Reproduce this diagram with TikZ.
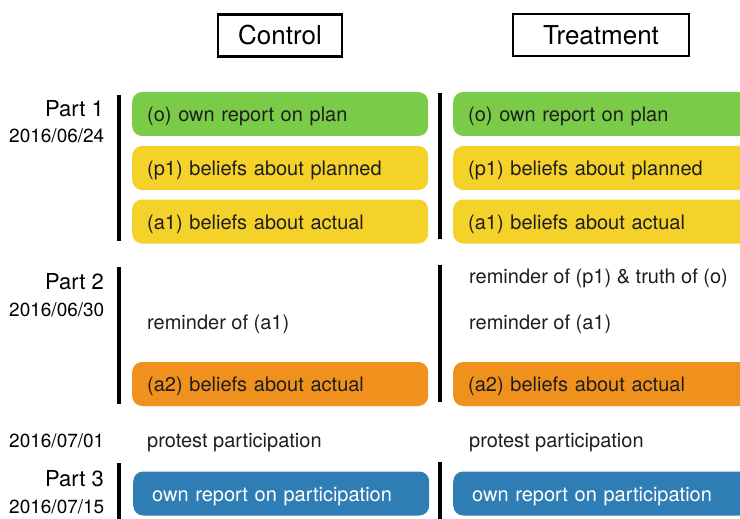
\documentclass[tikz,border=0pt]{standalone}
\usepackage{fontspec}
\setmainfont{TeX Gyre Heros}
\usepackage{tikz}
\usetikzlibrary{positioning}

\definecolor{planGreen}{RGB}{122,204,72}
\definecolor{beliefYellow}{RGB}{245,210,42}
\definecolor{actualOrange}{RGB}{240,145,30}
\definecolor{partBlue}{RGB}{46,126,181}
\definecolor{inkGray}{RGB}{30,30,30}

\begin{document}
\begin{tikzpicture}[
    x=1pt, y=-1pt,              % pixel-like coordinates, top-down
    font=\fontsize{20}{24}\selectfont,
    text=inkGray,
    ]
% -------------------------------------------------
\tikzset{
  base/.style={rounded corners=10pt, anchor=west, align=left, minimum height=44pt,
               inner xsep=15pt, text width=266pt, text height=17pt, text depth=2pt},
  plan/.style={base, fill=planGreen},
  belief/.style={base, fill=beliefYellow},
  actual/.style={base, fill=actualOrange},
  report/.style={base, fill=partBlue, text=white, inner xsep=19pt, text width=258pt},
  plain/.style={anchor=west, inner sep=0pt, yshift=-1.5pt},
  group/.style={draw=black, line width=2.5pt, inner sep=0pt, minimum height=42pt,
                font=\fontsize{26}{30}\selectfont, text=black},
  part/.style={anchor=east, inner sep=0pt, font=\fontsize{22}{26}\selectfont, text=black},
  date/.style={anchor=east, inner sep=0pt, font=\fontsize{19}{22}\selectfont, text=black},
  bar/.style={line width=4pt, black}
}
\useasboundingbox (0,0) rectangle (740,519);
% -------------------------------------------------
% Headers
\node [group, minimum width=124pt] (ctl) at (280,35.5) {Control};
\node [group, minimum width=176pt] (trt) at (601,35) {Treatment};

% Parts and dates
\node [part] (p1lab) at (104,108.5) {Part 1};
\node [date] (d1) at (104.5,136) {2016/06/24};
\node [part] (p2lab) at (104,281.5) {Part 2};
\node [date] (d2) at (104.5,309.5) {2016/06/30};
\node [date] (d3) at (104.5,441) {2016/07/01};
\node [part] (p3lab) at (104,478.5) {Part 3};
\node [date] (d4) at (104.5,506.5) {2016/07/15};

% Vertical bars
\draw [bar] (119,95) -- (119,241);
\draw [bar] (440,93) -- (440,239);
\draw [bar] (119,267) -- (119,404);
\draw [bar] (440,265) -- (440,402);
\draw [bar] (119,463) -- (119,519);
\draw [bar] (440,462) -- (440,519);

% Control column
\node [plan] (co) at (132,114) {(o) own report on plan};
\node [belief] (cp1) at (132,168) {(p1) beliefs about planned};
\node [belief] (ca1) at (132,221.5) {(a1) beliefs about actual};
\node [plain] (crem) at (147,322.5) {reminder of (a1)};
\node [actual] (ca2) at (132,384) {(a2) beliefs about actual};
\node [plain] (cpro) at (147,441) {protest participation};
\node [report] (crep) at (133,493.5) {own report on participation};

% Treatment column
\node [plan] (to) at (453,114) {(o) own report on plan};
\node [belief] (tp1) at (453,168) {(p1) beliefs about planned};
\node [belief] (ta1) at (453,221.5) {(a1) beliefs about actual};
\node [plain] (ttru) at (469,276.5) {reminder of (p1) \& truth of (o)};
\node [plain] (trem) at (469,322.5) {reminder of (a1)};
\node [actual] (ta2) at (453,384) {(a2) beliefs about actual};
\node [plain] (tpro) at (469,441) {protest participation};
\node [report] (trep) at (453,493.5) {own report on participation};

\end{tikzpicture}
\end{document}
